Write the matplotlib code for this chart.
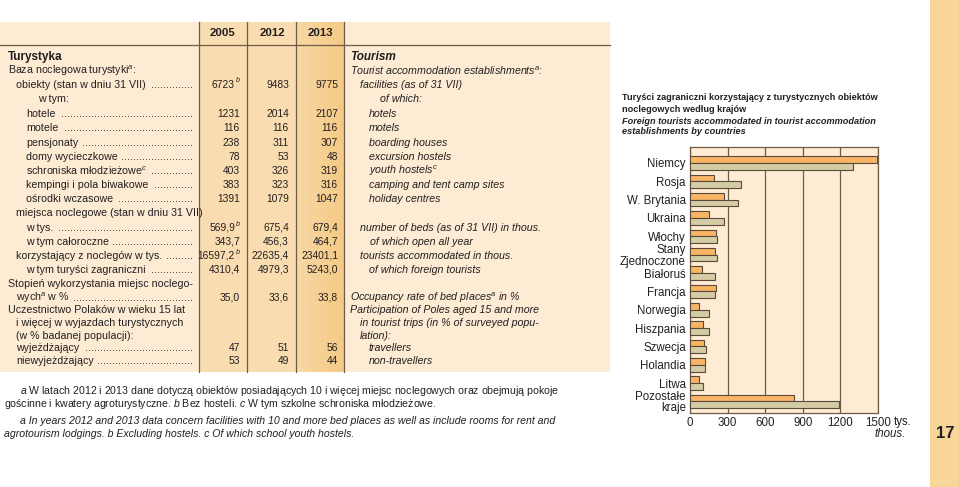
import matplotlib
matplotlib.use('Agg')
import matplotlib.pyplot as plt
from matplotlib import font_manager as fm
from matplotlib.patches import Rectangle
from matplotlib.colors import LinearSegmentedColormap
import numpy as np


def has_font(name):
    try:
        fm.findfont(fm.FontProperties(family=name), fallback_to_default=False)
        return True
    except Exception:
        return False


NARROW = 'Liberation Sans Narrow' if has_font('Liberation Sans Narrow') else 'Liberation Sans'
plt.rcParams['font.family'] = [NARROW, 'DejaVu Sans']
plt.rcParams['mathtext.fontset'] = 'custom'
plt.rcParams['mathtext.rm'] = NARROW
plt.rcParams['mathtext.it'] = NARROW + ':italic'
plt.rcParams['mathtext.bf'] = NARROW + ':bold'

# ---------------- data ----------------
years = ['2005', '2012', '2013']

pl_labels = [
    'Turystyka',
    'Baza noclegowa turystyki$^{\\it a}$:',
    'obiekty (stan w dniu 31 VII)',
    'w tym:',
    'hotele', 'motele', 'pensjonaty', 'domy wycieczkowe',
    'schroniska młodzieżowe$^{\\it c}$', 'kempingi i pola biwakowe', 'ośrodki wczasowe',
    'miejsca noclegowe (stan w dniu 31 VII)',
    'w tys.', 'w tym całoroczne', 'korzystający z noclegów w tys.', 'w tym turyści zagraniczni',
    'Stopień wykorzystania miejsc noclego-',
    'wych$^{\\it a}$ w %',
    'Uczestnictwo Polaków w wieku 15 lat',
    'i więcej w wyjazdach turystycznych',
    '(w % badanej populacji):',
    'wyjeżdżający', 'niewyjeżdżający',
]
en_labels = [
    'Tourism',
    'Tourist accommodation establishments$^{\\it a}$:',
    'facilities (as of 31 VII)',
    'of which:',
    'hotels', 'motels', 'boarding houses', 'excursion hostels',
    'youth hostels$^{\\it c}$', 'camping and tent camp sites', 'holiday centres',
    '',
    'number of beds (as of 31 VII) in thous.', 'of which open all year',
    'tourists accommodated in thous.', 'of which foreign tourists',
    '',
    'Occupancy rate of bed places$^{\\it a}$ in %',
    'Participation of Poles aged 15 and more',
    'in tourist trips (in % of surveyed popu-',
    'lation):',
    'travellers', 'non-travellers',
]
value_rows = [2, 4, 5, 6, 7, 8, 9, 10, 12, 13, 14, 15, 17, 21, 22]
values_2005 = ['6723', '1231', '116', '238', '78', '403', '383', '1391',
               '569,9', '343,7', '16597,2', '4310,4', '35,0', '47', '53']
sup_2005 = ['b', '', '', '', '', '', '', '', 'b', '', 'b', '', '', '', '']
values_2012 = ['9483', '2014', '116', '311', '53', '326', '323', '1079',
               '675,4', '456,3', '22635,4', '4979,3', '33,6', '51', '49']
values_2013 = ['9775', '2107', '116', '307', '48', '319', '316', '1047',
               '679,4', '464,7', '23401,1', '5243,0', '33,8', '56', '44']

countries = ['Niemcy', 'Rosja', 'W. Brytania', 'Ukraina', 'Włochy', 'Stany\nZjednoczone',
             'Białoruś', 'Francja', 'Norwegia', 'Hiszpania', 'Szwecja', 'Holandia',
             'Litwa', 'Pozostałe\nkraje']
tourists_2005 = [1495, 194, 274, 149, 208, 200, 93, 208, 69, 101, 109, 117, 69, 826]
tourists_2013 = [1300, 408, 381, 274, 216, 213, 202, 200, 149, 149, 128, 117, 104, 1191]
x_ticks = [0, 300, 600, 900, 1200, 1500]

# ---------------- layout / style ----------------
row_y = [57, 71, 85, 99, 114, 128, 143, 157, 171, 185, 199, 213, 228, 242, 256, 270,
         284, 298, 310, 323, 336, 348, 361]
pl_x = [8, 8, 16, 38, 26, 26, 26, 26, 26, 26, 26, 16, 26, 26, 16, 26, 8, 16, 8, 16, 16, 16, 16]
en_x = [350, 350, 360, 380, 369, 369, 369, 369, 369, 369, 369, 360, 360, 370, 360, 369,
        350, 350, 350, 360, 360, 369, 369]
dot_rows = [2, 4, 5, 6, 7, 8, 9, 10, 12, 13, 14, 15, 17, 21, 22]

CREAM = '#fdebd3'
COLMID = '#f9dcb0'
LINE = '#6e5c48'
TXT = '#231f20'
STRIP = '#f8d598'
C05 = '#f7b565'
C13 = '#d3cca4'
FS = 7.7
VF = 7.4

fig = plt.figure(figsize=(9.59, 4.87), dpi=100)
bg = fig.add_axes([0, 0, 1, 1])
bg.axis('off')

# table background
bg.add_patch(Rectangle((0, 22), 610, 350, color=CREAM, lw=0, zorder=0))
bg.add_patch(Rectangle((199, 22), 97, 350, color=COLMID, lw=0, zorder=0.5))
grad = np.linspace(0, 1, 64).reshape(1, -1)
cm = LinearSegmentedColormap.from_list('g', ['#f8d8a6', '#f5ca84'])
bg.imshow(grad, cmap=cm, extent=(296, 344, 372, 22), aspect='auto', zorder=0.6)
bg.set_xlim(0, 959)
bg.set_ylim(487, 0)
bg.plot([0, 610], [45, 45], color=LINE, lw=0.9, zorder=2)
for xv in [199, 247, 296, 344]:
    bg.plot([xv, xv], [22, 372], color=LINE, lw=0.9, zorder=2)

# right strip and page number
bg.add_patch(Rectangle((930, 0), 29, 487, color=STRIP, lw=0, zorder=0))
bg.text(945, 434, '17', fontsize=12, fontweight='bold', ha='center', va='center', color=TXT)

# headers
for yr, cx in zip(years, [223, 272, 320]):
    bg.text(cx, 33, yr, fontsize=8.2, fontweight='bold', ha='center', va='center', color=TXT)

# Polish labels
label_texts = []
for i, (lab, x, y) in enumerate(zip(pl_labels, pl_x, row_y)):
    fw = 'bold' if i == 0 else 'normal'
    t = bg.text(x, y, lab, fontsize=FS + (0.8 if i == 0 else 0), fontweight=fw,
                ha='left', va='center', color=TXT)
    label_texts.append(t)

# English labels
for i, (lab, x, y) in enumerate(zip(en_labels, en_x, row_y)):
    if not lab:
        continue
    fw = 'bold' if i == 0 else 'normal'
    bg.text(x, y, lab, fontsize=FS + (0.8 if i == 0 else 0), fontweight=fw, style='italic',
            ha='left', va='center', color=TXT)

# values
for k, r in enumerate(value_rows):
    y = row_y[r]
    if sup_2005[k]:
        bg.text(235, y, values_2005[k], fontsize=VF, ha='right', va='center', color=TXT)
        bg.text(236, y - 4, sup_2005[k], fontsize=VF - 2.3, style='italic', ha='left',
                va='center', color=TXT)
    else:
        bg.text(240, y, values_2005[k], fontsize=VF, ha='right', va='center', color=TXT)
    bg.text(289, y, values_2012[k], fontsize=VF, ha='right', va='center', color=TXT)
    bg.text(338, y, values_2013[k], fontsize=VF, ha='right', va='center', color=TXT)

# dot leaders
fig.canvas.draw()
ren = fig.canvas.get_renderer()
probe = bg.text(0, 0, '.' * 20, fontsize=FS)
dotw = probe.get_window_extent(ren).width / 20.0
probe.remove()
for r in dot_rows:
    x1 = label_texts[r].get_window_extent(ren).x1
    n = int((193 - x1 - 3) / dotw)
    if n > 0:
        bg.text(193, row_y[r], '.' * n, fontsize=FS, ha='right', va='center', color=TXT)

# footnotes
FN = 7.6
bg.text(20, 391, '$\\it{a}$ W latach 2012 i 2013 dane dotyczą obiektów posiadających 10 i więcej '
        'miejsc noclegowych oraz obejmują pokoje', fontsize=FN, ha='left', va='center', color=TXT)
bg.text(4, 404, 'gościnne i kwatery agroturystyczne. $\\it{b}$ Bez hosteli. $\\it{c}$ W tym szkolne '
        'schroniska młodzieżowe.', fontsize=FN, ha='left', va='center', color=TXT)
bg.text(20, 421, 'a In years 2012 and 2013 data concern facilities with 10 and more bed places as '
        'well as include rooms for rent and', fontsize=FN, style='italic', ha='left', va='center',
        color=TXT)
bg.text(4, 434, 'agrotourism lodgings. b Excluding hostels. c Of which school youth hostels.',
        fontsize=FN, style='italic', ha='left', va='center', color=TXT)

# chart title
TF = 6.6
bg.text(622, 98, 'Turyści zagraniczni korzystający z turystycznych obiektów', fontsize=TF,
        fontweight='bold', ha='left', va='center', color=TXT)
bg.text(622, 109, 'noclegowych według krajów', fontsize=TF, fontweight='bold', ha='left',
        va='center', color=TXT)
bg.text(622, 121, 'Foreign tourists accommodated in tourist accommodation', fontsize=TF,
        fontweight='bold', style='italic', ha='left', va='center', color=TXT)
bg.text(622, 132, 'establishments by countries', fontsize=TF, fontweight='bold', style='italic',
        ha='left', va='center', color=TXT)

# ---------------- bar chart ----------------
CF = 8.3
ax = fig.add_axes([690 / 959, (487 - 413) / 487, 188 / 959, 266 / 487])
ax.set_facecolor(CREAM)
ypos = np.arange(len(countries))
h = 0.37
ax.barh(ypos - h / 2, tourists_2005, height=h, color=C05, edgecolor='#5b4a3a', lw=0.8, zorder=3)
ax.barh(ypos + h / 2, tourists_2013, height=h, color=C13, edgecolor='#5b4a3a', lw=0.8, zorder=3)
ax.set_xlim(0, 1500)
ax.set_ylim(13.63, -0.87)
ax.set_xticks(x_ticks)
ax.set_xticklabels([str(v) for v in x_ticks], fontsize=CF, color=TXT)
ax.set_yticks(ypos)
ax.set_yticklabels(countries, fontsize=CF, color=TXT, linespacing=0.95)
ax.tick_params(length=0, pad=3)
ax.grid(axis='x', color=LINE, lw=0.9)
ax.set_axisbelow(True)
for s in ax.spines.values():
    s.set_color(LINE)
    s.set_linewidth(0.9)

bg.text(894, 422, 'tys.', fontsize=CF, ha='left', va='center', color=TXT)
bg.text(906, 434, 'thous.', fontsize=CF, style='italic', ha='right', va='center', color=TXT)

# legend
bg.add_patch(Rectangle((814, 338), 29, 12, facecolor=C05, edgecolor='#5b4a3a', lw=0.8, zorder=3))
bg.add_patch(Rectangle((814, 357), 29, 12, facecolor=C13, edgecolor='#5b4a3a', lw=0.8, zorder=3))
bg.text(848, 344, '2005', fontsize=CF, ha='left', va='center', color=TXT, zorder=4)
bg.text(848, 363, '2013$^{\\it a}$', fontsize=CF, ha='left', va='center', color=TXT, zorder=4)

fig.savefig('out.png', dpi=100)
